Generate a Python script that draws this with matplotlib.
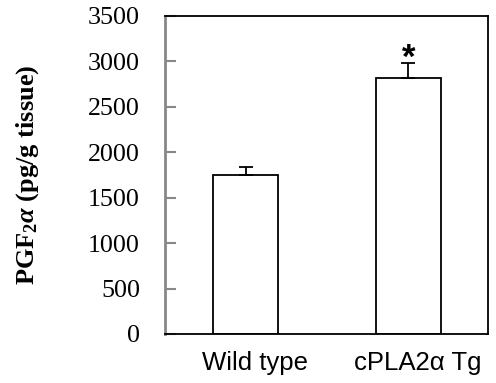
import matplotlib
matplotlib.use("Agg")
import matplotlib.pyplot as plt
import matplotlib.transforms as mtransforms
import numpy as np

categories = ["Wild type", "cPLA2\u03b1 Tg"]
values = [1750, 2820]
errors = [90, 165]
yticks = [0, 500, 1000, 1500, 2000, 2500, 3000, 3500]
significance = ["", "*"]

plt.rcParams['mathtext.fontset'] = 'custom'
plt.rcParams['mathtext.rm'] = 'Liberation Serif:bold'
plt.rcParams['mathtext.it'] = 'Liberation Serif:italic:bold'
plt.rcParams['mathtext.bf'] = 'Liberation Serif:bold'

fig = plt.figure(figsize=(4.96, 3.83), dpi=100)
ax = fig.add_axes([165/496, 1-334/383, 323/496, 318/383])

x = np.arange(len(categories))
ax.bar(x, values, width=0.4, color='white', edgecolor='black', linewidth=1.3, zorder=2)
ax.errorbar(x, values, yerr=[np.zeros(len(errors)), errors], fmt='none',
            ecolor='black', elinewidth=1.3, capsize=4.7, capthick=1.3, zorder=3)

for xi, v, e, s in zip(x, values, errors, significance):
    if s:
        ax.annotate(s, xy=(xi, v + e), xytext=(0, -9), textcoords='offset points',
                    ha='center', va='bottom', fontsize=25, fontweight='bold',
                    family='Liberation Sans')

ax.set_xlim(-0.495, 1.49)
ax.set_ylim(0, 3500)
ax.set_yticks(yticks)
ax.set_yticklabels([str(t) for t in yticks], family='Liberation Serif', fontsize=18.7)
ax.tick_params(axis='y', direction='in', length=8, width=1.5, color='#888888', pad=18)
ax.set_xticks(x)
ax.set_xticklabels(categories, family='Liberation Sans', fontsize=18.5)
ax.tick_params(axis='x', length=0, pad=12)
offset = mtransforms.ScaledTranslation(9/100, 0, fig.dpi_scale_trans)
for lab in ax.get_xticklabels():
    lab.set_transform(lab.get_transform() + offset)

for side in ['top', 'right', 'bottom']:
    ax.spines[side].set_color('black')
    ax.spines[side].set_linewidth(1.3)
ax.spines['left'].set_color('#888888')
ax.spines['left'].set_linewidth(2)

ax.set_ylabel(r'PGF$_\mathrm{2}\alpha$ (pg/g tissue)', family='Liberation Serif',
              fontweight='bold', fontsize=19, va='center')
ax.yaxis.set_label_coords((28-165)/323, 0.5)

fig.savefig('out.png', dpi=100)
